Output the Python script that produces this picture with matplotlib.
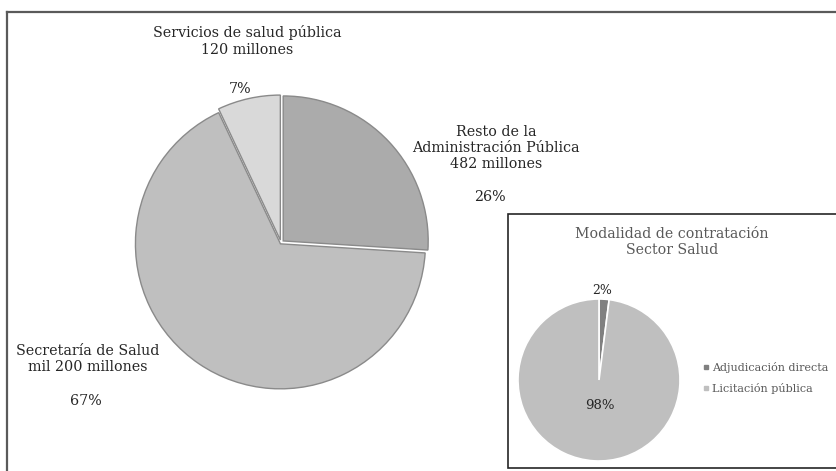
import matplotlib
matplotlib.use("Agg")
from matplotlib import pyplot
from matplotlib.lines import Line2D
from matplotlib.patches import Rectangle

# --------------------------------------------------------------------------

sectors = ["Resto de la\nAdministración Pública\n482 millones",
           "Secretaría de Salud\nmil 200 millones",
           "Servicios de salud pública\n120 millones"]
shares = [26, 67, 7]
share_labels = ["26%", "67%", "7%"]

modes = ["Adjudicación directa", "Licitación pública"]
mode_shares = [2, 98]
mode_labels = ["2%", "98%"]

W, H = 837, 471
serif = "DejaVu Serif"

# --------------------------------------------------------------------------

fig = pyplot.figure(figsize=(W/100, H/100), dpi=100)
ax = fig.add_axes([0, 0, 1, 1])

def Y(y):
    # picture rows are counted from the top
    return H - y

def resetAxes():
    ax.set_xlim(0, W)
    ax.set_ylim(0, H)
    ax.set_aspect("equal")
    ax.axis("off")

# main pie (explode is in data units here, i.e. pixels)
wedges, _ = ax.pie(shares, startangle=90, counterclock=False,
                   colors=["#ababab", "#bfbfbf", "#d9d9d9"],
                   explode=[3.0, 1.0, 3.0],
                   center=(281, Y(243)), radius=145, frame=False,
                   wedgeprops=dict(edgecolor="#8a8a8a", linewidth=1.0))
resetAxes()

name_pos = [(496, 148), (88, 359), (247, 41)]
pct_pos = [(490, 197), (86, 401), (240, 89)]
for name, pct, (nx, ny), (px, py) in zip(sectors, share_labels, name_pos, pct_pos):
    ax.text(nx, Y(ny), name, ha="center", va="center", fontsize=10.3,
            family=serif, color="#262626", linespacing=1.2)
    ax.text(px, Y(py), pct, ha="center", va="center", fontsize=10.3,
            family=serif, color="#262626")

# outer frame (left and top edges only)
ax.add_line(Line2D([7.5, 7.5], [Y(12), 0], color="#5a5a5a", lw=1.6))
ax.add_line(Line2D([7, 837], [Y(12), Y(12)], color="#5a5a5a", lw=1.6))

# inset box
ax.add_patch(Rectangle((508.5, Y(468)), 330, 468-214, fill=True,
                       facecolor="white", edgecolor="#262626", lw=1.2, zorder=3))
ax.text(672, Y(242), "Modalidad de contratación\nSector Salud", ha="center",
        va="center", fontsize=10.2, family=serif, color="#595959",
        linespacing=1.2, zorder=4)

iw, _ = ax.pie(mode_shares, startangle=90, counterclock=False,
               colors=["#808080", "#bfbfbf"], center=(599, Y(380)), radius=81,
               frame=False, wedgeprops=dict(edgecolor="white", linewidth=1.2))
for w in iw:
    w.set_zorder(4)
resetAxes()

ax.text(602, Y(290), mode_labels[0], ha="center", va="center", fontsize=9,
        family=serif, color="#262626", zorder=5)
ax.text(600, Y(406), mode_labels[1], ha="center", va="center", fontsize=9.5,
        family=serif, color="#262626", zorder=5)

handles = [Line2D([], [], marker="s", ls="", markersize=3.5, color=c)
           for c in ["#808080", "#bfbfbf"]]
leg = ax.legend(handles, modes, loc="center left", frameon=False,
                bbox_to_anchor=(693/W, Y(378)/H), handlelength=0.6,
                handletextpad=0.25, labelspacing=0.9,
                prop=dict(family=serif, size=8.0))
for t in leg.get_texts():
    t.set_color("#595959")
leg.set_zorder(5)

fig.savefig("out.png", dpi=100)
